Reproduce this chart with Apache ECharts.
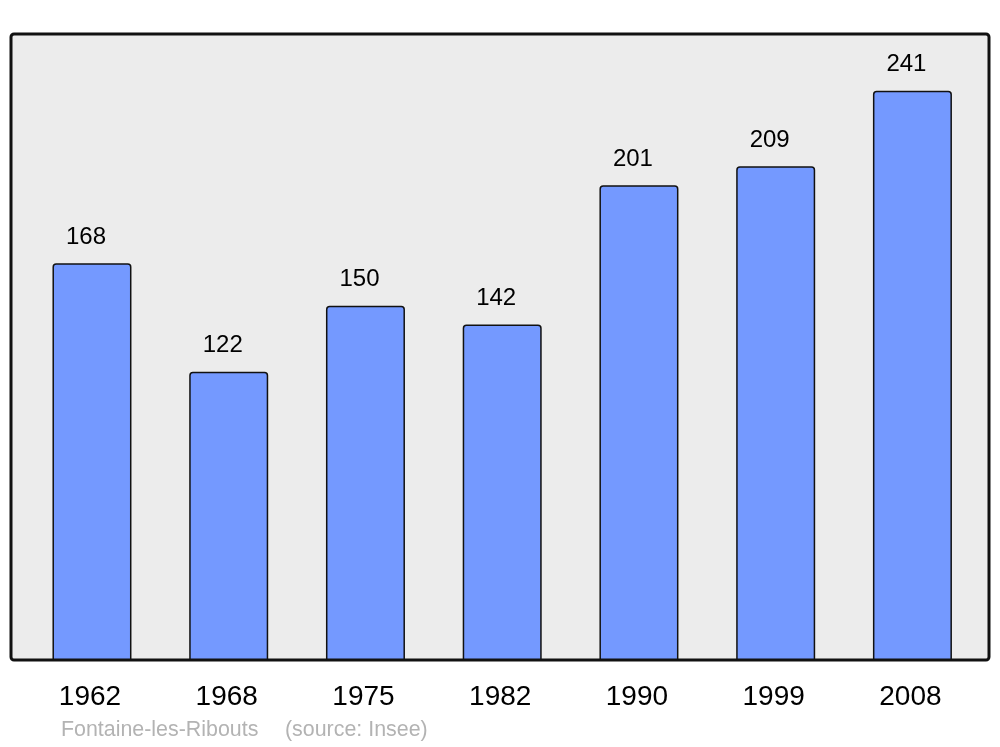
<!DOCTYPE html>
<html>
<head>
<meta charset="utf-8">
<script src="https://cdn.jsdelivr.net/npm/echarts@6/dist/echarts.min.js"></script>
<style>html,body{margin:0;padding:0;background:#fff;}#c{width:1000px;height:747px;}</style>
</head>
<body>
<div id="c"></div>
<script>
const years = ['1962','1968','1975','1982','1990','1999','2008'];
const population = [168,122,150,142,201,209,241];
const footerName = 'Fontaine-les-Ribouts';
const footerSource = '(source: Insee)';

const chart = echarts.init(document.getElementById('c'), null, {renderer:'canvas'});
chart.setOption({
  animation: false,
  backgroundColor: '#ffffff',
  graphic: [
    {type:'rect', z:0, shape:{x:11,y:34,width:978,height:626,r:3}, style:{fill:'#ececec',stroke:'#111',lineWidth:3}},
    {type:'text', z:5, left:61, top:720, style:{text:footerName, fill:'#b3b3b3', font:'21.4px "Liberation Sans", Arial, sans-serif'}},
    {type:'text', z:5, left:285, top:720, style:{text:footerSource, fill:'#b3b3b3', font:'21.4px "Liberation Sans", Arial, sans-serif'}}
  ],
  grid: {left:23.6, right:19.2, top:34, bottom:87, containLabel:false},
  xAxis: {
    type:'category', data: years,
    axisLine:{show:false}, axisTick:{show:false},
    axisLabel:{color:'#000', fontSize:28, fontFamily:'"Liberation Sans", Arial, sans-serif', margin:23, padding:[0,4,0,0]}
  },
  yAxis: {
    type:'value', min:0, max:265,
    show:false, splitLine:{show:false}
  },
  series: [{
    type:'bar', data: population, barWidth:79, z:3,
    itemStyle:{color:'#7499ff', borderColor:'#111', borderWidth:1.5, borderRadius:[3,3,0,0]},
    label:{show:true, position:'top', distance:14, offset:[-6,0], color:'#000', fontSize:24, fontFamily:'"Liberation Sans", Arial, sans-serif'}
  }]
});
</script>
</body>
</html>
